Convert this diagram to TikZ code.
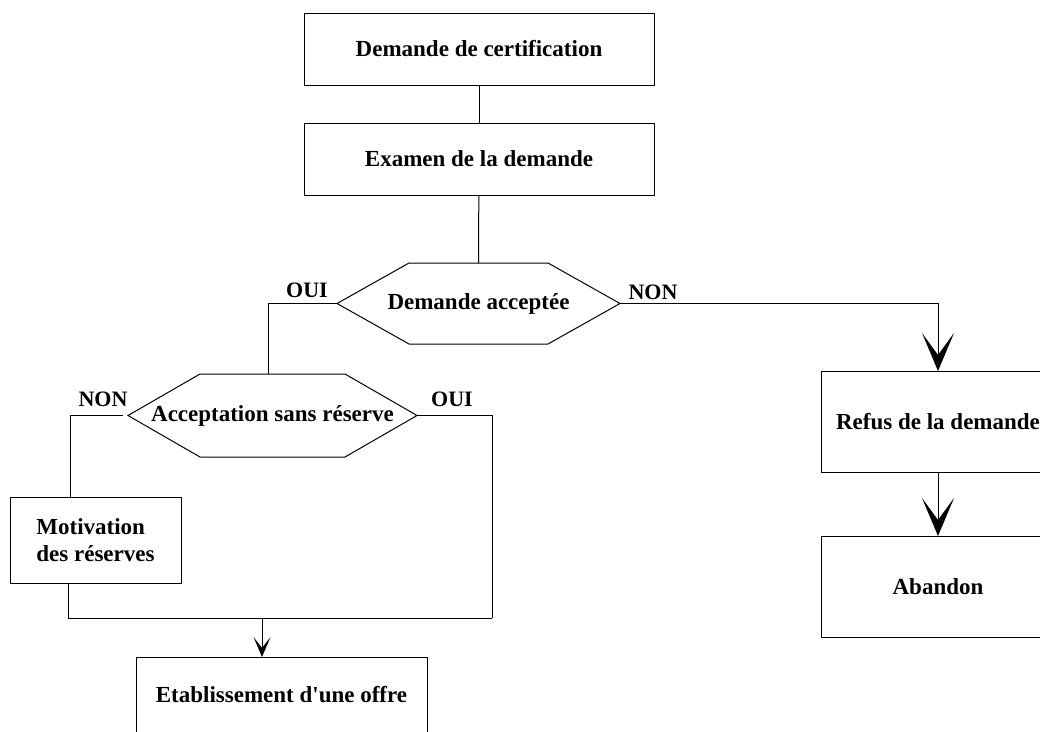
\documentclass[tikz,border=0pt]{standalone}
\usepackage{fontspec}
\setmainfont{Liberation Serif}
\usetikzlibrary{arrows.meta}

\tikzset{
  boite/.style={draw, line width=1pt, outer sep=0pt, font=\bfseries\fontsize{23}{27}\selectfont},
  choix/.style={outer sep=0pt, font=\bfseries\fontsize{23}{27}\selectfont},
  reponse/.style={inner sep=0pt, font=\bfseries\fontsize{22}{26}\selectfont},
  grande/.style={-{Stealth[length=38pt,width=32pt,inset=22pt]}},
  petite/.style={-{Stealth[length=20pt,width=17pt,inset=11pt]}}
}

\begin{document}
\begin{tikzpicture}[x=1pt,y=-1pt,line width=1pt]
\useasboundingbox (0,0) rectangle (1040,731);
\clip (0,0) rectangle (1040,731);

\node[boite, minimum width=350pt, minimum height=72pt] (cert) at (479,49) {Demande de certification};
\node[boite, minimum width=350pt, minimum height=72pt] (exam) at (479,159) {Examen de la demande};
\node[choix, minimum width=283pt, minimum height=81pt] (accept) at (478.5,303.5) {Demande accept\'ee};
\node[choix, minimum width=289pt, minimum height=83pt] (sansres) at (272.5,415.5) {Acceptation sans r\'eserve};
\node[boite, minimum width=171pt, minimum height=86pt, align=left] (motiv) at (95.5,540) {Motivation\\des r\'eserves};
\node[boite, minimum width=291pt, minimum height=76pt] (offre) at (281.5,695) {Etablissement d\textquotesingle une offre};
\node[boite, minimum width=234pt, minimum height=101pt] (refus) at (938,421.5) {Refus de la demande};
\node[boite, minimum width=234pt, minimum height=101pt] (abandon) at (938,586.5) {Abandon};

\foreach \n in {accept,sansres}
  \draw (\n.west) -- ([xshift=72pt]\n.north west) -- ([xshift=-72pt]\n.north east) -- (\n.east)
    -- ([xshift=-72pt]\n.south east) -- ([xshift=72pt]\n.south west) -- cycle;

\node[reponse] (oui1) at ([xshift=-30pt,yshift=13pt]accept.west) {OUI};
\node[reponse] (non1) at ([xshift=33pt,yshift=11pt]accept.east) {NON};
\node[reponse] (non2) at ([xshift=-25pt,yshift=16pt]sansres.west) {NON};
\node[reponse] (oui2) at ([xshift=35pt,yshift=16pt]sansres.east) {OUI};

\coordinate (jr) at (492,618);
\coordinate (jm) at (262,618);

\draw (cert) -- (exam);
\draw (exam) -- (accept.north);
\draw (accept.west) -| ([xshift=-4pt]sansres.north);
\draw[grande] (accept.east) -| (refus.north);
\draw[grande] (refus) -- (abandon);
\draw ([xshift=-5pt]sansres.west) -| ([xshift=-25pt]motiv.north);
\draw ([xshift=-27pt]motiv.south) |- (jr);
\draw (sansres.east) -| (jr);
\draw[petite] (jm) -- (jm |- offre.north);
\end{tikzpicture}
\end{document}
